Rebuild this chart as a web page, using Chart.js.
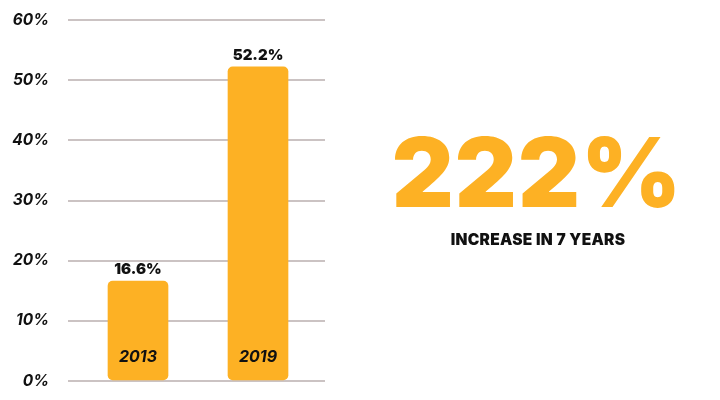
<!DOCTYPE html>
<html>
<head>
<meta charset="utf-8">
<script src="https://cdn.jsdelivr.net/npm/chart.js@4"></script>
<style>
  html, body { margin: 0; padding: 0; background: #fff; }
  #wrap { position: relative; width: 720px; height: 400px; }
  #bigNumber {
    position: absolute; left: 380px; width: 314px; top: 124px;
    text-align: center; font-family: Inter, sans-serif; font-weight: 900;
    font-size: 96px; line-height: 96px; color: #fdb124; letter-spacing: 1px;
  }
  #bigCaption {
    position: absolute; left: 380px; width: 316px; top: 231px;
    text-align: center; font-family: Inter, sans-serif; font-weight: 900;
    font-size: 15.5px; line-height: 18px; color: #111; letter-spacing: 0.3px;
  }
</style>
</head>
<body>
<div id="wrap">
  <canvas id="graph1" width="720" height="400"></canvas>
  <div id="bigNumber">222%</div>
  <div id="bigCaption">INCREASE IN 7 YEARS</div>
</div>
<script>
const years = ["2013", "2019"];
const shares = [16.6, 52.2];
const yTicks = [0, 10, 20, 30, 40, 50, 60];

const barColor = "#fdb124";
const gridColor = "#cbc3c3";

// value on top, year inside the bar
const barLabels = {
  id: "barLabels",
  afterDatasetsDraw(chart) {
    const ctx = chart.ctx;
    const meta = chart.getDatasetMeta(0);
    ctx.save();
    ctx.textAlign = "center";
    meta.data.forEach((bar, i) => {
      ctx.fillStyle = "#111";
      ctx.textBaseline = "bottom";
      ctx.font = "900 15px Inter, sans-serif";
      ctx.fillText(shares[i].toFixed(1) + "%", bar.x, bar.y - 4);
      ctx.textBaseline = "middle";
      ctx.font = "italic 700 16px Inter, sans-serif";
      ctx.fillText(years[i], bar.x, chart.scales.y.getPixelForValue(0) - 24);
    });
    ctx.restore();
  },
};

new Chart(document.getElementById("graph1"), {
  type: "bar",
  data: {
    datasets: [
      {
        data: years.map((y, i) => ({ x: i + 1, y: shares[i] })),
        backgroundColor: barColor,
        borderRadius: 5,
        borderSkipped: false,
        barThickness: 60,
      },
    ],
  },
  options: {
    responsive: false,
    animation: false,
    layout: { padding: { top: 20, bottom: 19, right: 395, left: 0 } },
    plugins: { legend: { display: false }, tooltip: { enabled: false } },
    scales: {
      x: {
        type: "linear",
        min: 0.4167,
        max: 2.5583,
        offset: false,
        display: false,
      },
      y: {
        min: 0,
        max: 60,
        afterBuildTicks: (scale) => {
          scale.ticks = yTicks.map((v) => ({ value: v }));
        },
        afterFit: (scale) => {
          scale.width = 68;
        },
        border: { display: false },
        grid: {
          color: gridColor,
          lineWidth: 2,
          drawTicks: true,
          tickLength: 19,
          tickColor: "rgba(0,0,0,0)",
        },
        ticks: {
          padding: 0,
          color: "#111",
          font: { family: "Inter", size: 15.5, style: "italic", weight: "700" },
          callback: (v) => v + "%",
        },
      },
    },
  },
  plugins: [barLabels],
});
</script>
</body>
</html>
